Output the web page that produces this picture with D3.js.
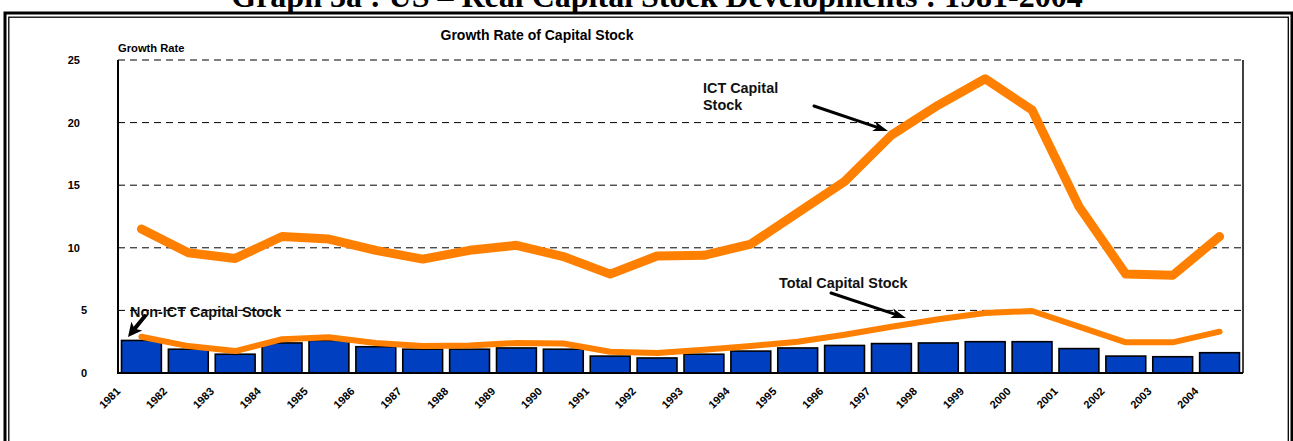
<!DOCTYPE html>
<html>
<head>
<meta charset="utf-8">
<script src="https://cdn.jsdelivr.net/npm/d3@7/dist/d3.min.js"></script>
<style>
  html, body { margin: 0; padding: 0; background: #ffffff; }
  svg { display: block; }
</style>
</head>
<body>
<script>
// ---------------- DATA ----------------
const years = ["1981","1982","1983","1984","1985","1986","1987","1988","1989","1990","1991","1992",
               "1993","1994","1995","1996","1997","1998","1999","2000","2001","2002","2003","2004"];
const nonIctStock = [2.6,1.9,1.5,2.4,2.6,2.1,1.9,1.9,2.0,1.9,1.35,1.2,1.5,1.75,2.0,2.2,2.35,2.4,2.5,2.5,1.95,1.35,1.3,1.62];
const totalStock  = [2.9,2.15,1.75,2.7,2.85,2.4,2.15,2.2,2.4,2.35,1.7,1.6,1.85,2.15,2.5,3.05,3.7,4.3,4.8,4.95,3.7,2.45,2.45,3.3];
const ictStock    = [11.5,9.6,9.15,10.9,10.7,9.8,9.1,9.8,10.2,9.3,7.9,9.35,9.4,10.3,12.8,15.3,19.0,21.4,23.5,21.0,13.3,7.9,7.8,10.9];
const yTicks = [0,5,10,15,20,25];

const pageTitle  = "Graph 3a : US \u2013 Real Capital Stock Developments : 1981-2004";
const chartTitle = "Growth Rate of Capital Stock";
const yAxisTitle = "Growth Rate";
const labelIct   = ["ICT Capital", "Stock"];
const labelTotal = "Total Capital Stock";
const labelNon   = "Non-ICT Capital Stock";

// ---------------- LAYOUT ----------------
const W = 1293, H = 441;
const plot = { left: 118, right: 1243, top: 60, bottom: 373 };
const SANS = "'Liberation Sans', Arial, sans-serif";
const SERIF = "'Liberation Serif', 'Times New Roman', serif";
const ORANGE = "#FF8000";
const BLUE = "#0040C0";

const svg = d3.select("body").append("svg").attr("width", W).attr("height", H);

// outer double frame
svg.append("rect").attr("x", 5).attr("y", 13).attr("width", 1287).attr("height", 440)
  .attr("fill", "none").attr("stroke", "#000").attr("stroke-width", 3);
svg.append("rect").attr("x", 8.8).attr("y", 17.2).attr("width", 1279.5).attr("height", 440)
  .attr("fill", "none").attr("stroke", "#000").attr("stroke-width", 1.3);

// page title (cut off at top, as in the source)
svg.append("text").attr("x", 657).attr("y", 7).attr("text-anchor", "middle")
  .attr("font-family", SERIF).attr("font-weight", "bold").attr("font-size", 32)
  .text(pageTitle);

// scales
const x = d3.scaleBand().domain(years).range([plot.left, plot.right])
  .paddingInner(0.15).paddingOuter(0.075);
const y = d3.scaleLinear().domain([0, 25]).range([plot.bottom, plot.top]);
const cx = d => x(d) + x.bandwidth() / 2;

// gridlines
svg.append("g").selectAll("line").data(yTicks.filter(t => t > 0)).join("line")
  .attr("x1", plot.left).attr("x2", plot.right)
  .attr("y1", d => y(d)).attr("y2", d => y(d))
  .attr("stroke", "#000").attr("stroke-width", 1).attr("stroke-dasharray", "7,5");

// right border
svg.append("line").attr("x1", plot.right).attr("x2", plot.right)
  .attr("y1", plot.top).attr("y2", plot.bottom).attr("stroke", "#000").attr("stroke-width", 1.5);

// y axis labels
svg.append("g").selectAll("text").data(yTicks).join("text")
  .attr("x", d => d >= 10 ? 80 : 87)
  .attr("y", d => y(d) + 4)
  .attr("text-anchor", "end")
  .attr("font-family", SANS).attr("font-weight", "bold").attr("font-size", 11)
  .text(d => d);

// bars
svg.append("g").selectAll("rect").data(years).join("rect")
  .attr("x", d => x(d))
  .attr("y", (d, i) => y(nonIctStock[i]))
  .attr("width", x.bandwidth())
  .attr("height", (d, i) => y(0) - y(nonIctStock[i]))
  .attr("fill", BLUE).attr("stroke", "#000").attr("stroke-width", 1.6);

// axes lines
svg.append("line").attr("x1", plot.left).attr("x2", plot.left)
  .attr("y1", plot.top).attr("y2", plot.bottom).attr("stroke", "#000").attr("stroke-width", 2);
svg.append("line").attr("x1", plot.left - 1).attr("x2", plot.right)
  .attr("y1", plot.bottom).attr("y2", plot.bottom).attr("stroke", "#000").attr("stroke-width", 2);

// x tick labels
svg.append("g").selectAll("text").data(years).join("text")
  .attr("transform", d => `translate(${x(d) - x.step() * 0.075 + 3},392) rotate(-45)`)
  .attr("text-anchor", "end")
  .attr("font-family", SANS).attr("font-weight", "bold").attr("font-size", 11)
  .text(d => d);

// lines
const lineGen = arr => d3.line().x((d, i) => cx(years[i])).y(d => y(d))(arr);
svg.append("path").attr("d", lineGen(totalStock))
  .attr("fill", "none").attr("stroke", ORANGE).attr("stroke-width", 6)
  .attr("stroke-linecap", "round").attr("stroke-linejoin", "round");
svg.append("path").attr("d", lineGen(ictStock))
  .attr("fill", "none").attr("stroke", ORANGE).attr("stroke-width", 9)
  .attr("stroke-linecap", "round").attr("stroke-linejoin", "round");

// chart title
svg.append("text").attr("x", 537).attr("y", 40).attr("text-anchor", "middle")
  .attr("font-family", SANS).attr("font-weight", "bold").attr("font-size", 14)
  .text(chartTitle);
svg.append("text").attr("x", plot.left).attr("y", 52)
  .attr("font-family", SANS).attr("font-weight", "bold").attr("font-size", 11.2)
  .text(yAxisTitle);

// annotations
function arrow(sx, sy, tx, ty, lw, L, w) {
  const dx = tx - sx, dy = ty - sy, len = Math.hypot(dx, dy);
  const ux = dx / len, uy = dy / len, nx = -uy, ny = ux;
  const bx = tx - L * ux, by = ty - L * uy;
  const notch = L * 0.25;
  svg.append("line").attr("x1", sx).attr("y1", sy)
    .attr("x2", tx - (L - notch) * ux).attr("y2", ty - (L - notch) * uy)
    .attr("stroke", "#000").attr("stroke-width", lw).attr("stroke-linecap", "round");
  svg.append("path")
    .attr("d", `M${tx},${ty} L${bx + w * nx},${by + w * ny} L${tx - (L - notch) * ux},${ty - (L - notch) * uy} L${bx - w * nx},${by - w * ny} Z`)
    .attr("fill", "#000");
}
const annFont = (sel) => sel.attr("font-family", SANS).attr("font-weight", "bold").attr("font-size", 14.4).attr("fill", "#111");

annFont(svg.append("text").attr("x", 703).attr("y", 93).text(labelIct[0]));
annFont(svg.append("text").attr("x", 703).attr("y", 110).text(labelIct[1]));
arrow(814, 106, 888, 131, 3, 15, 5);

annFont(svg.append("text").attr("x", 779).attr("y", 288).text(labelTotal));
arrow(831, 293, 906, 318, 3, 15, 5);

annFont(svg.append("text").attr("x", 130).attr("y", 316.5).text(labelNon));
svg.append("line").attr("x1", 130).attr("x2", 290).attr("y1", y(5)).attr("y2", y(5))
  .attr("stroke", "#000").attr("stroke-width", 1).attr("stroke-dasharray", "7,5").attr("opacity", 0.6);
arrow(145, 316, 128, 337, 4, 14, 7);
</script>
</body>
</html>
